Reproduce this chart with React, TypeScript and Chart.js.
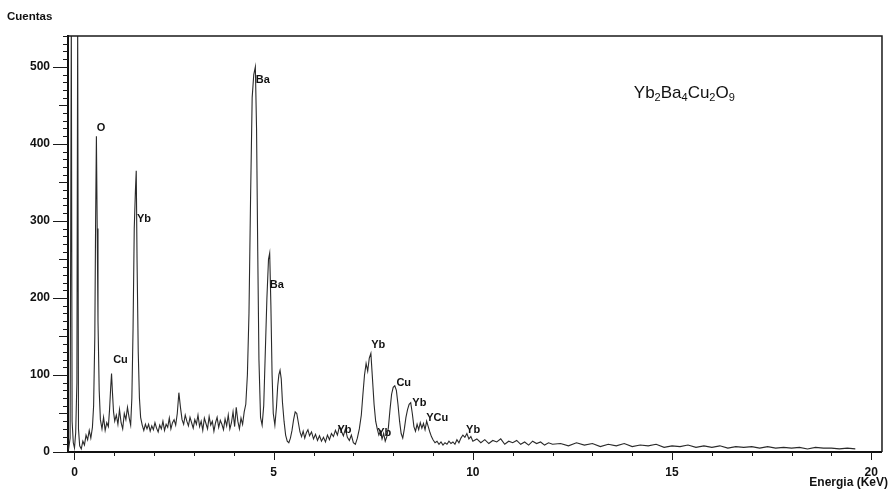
import React, { useEffect, useRef } from 'react';
import { Chart, registerables } from 'chart.js';

Chart.register(...registerables);

// ---------- spectrum data (energy in keV, counts) ----------
const energyA = [-0.15, -0.11, -0.08, -0.06, -0.03, 0.0, 0.03, 0.06, 0.08, 0.10, 0.13, 0.17, 0.21, 0.25, 0.29, 0.33, 0.37, 0.41, 0.45, 0.48];
const countsA = [3, 18, 560, 40, 12, 5, 25, 90, 560, 30, 8, 4, 14, 9, 22, 16, 28, 18, 32, 60];

const energyB = [0.51, 0.53, 0.55, 0.57, 0.59, 0.62, 0.65, 0.69, 0.73, 0.77, 0.81, 0.85, 0.88, 0.91, 0.93, 0.95, 0.98, 1.01, 1.05, 1.09, 1.13, 1.17, 1.21, 1.25, 1.29, 1.33, 1.37, 1.41, 1.44];
const countsB = [150, 300, 410, 290, 170, 80, 42, 30, 45, 28, 38, 33, 55, 85, 102, 80, 52, 40, 48, 36, 55, 38, 30, 50, 42, 58, 45, 35, 70];

const energyC = [1.47, 1.50, 1.53, 1.55, 1.57, 1.60, 1.63, 1.66, 1.70, 1.74, 1.78];
const countsC = [160, 290, 340, 365, 250, 130, 70, 45, 35, 28, 36];

const energyD = [1.82, 1.86, 1.90, 1.94, 1.98, 2.02, 2.06, 2.10, 2.14, 2.18, 2.22, 2.26, 2.30, 2.34, 2.38, 2.42, 2.46, 2.50, 2.54, 2.58, 2.62, 2.66, 2.70, 2.74, 2.78, 2.82, 2.86, 2.90, 2.94, 2.98, 3.02, 3.06, 3.10, 3.14, 3.18, 3.22, 3.26, 3.30, 3.34, 3.38, 3.42, 3.46, 3.50, 3.54, 3.58, 3.62, 3.66, 3.70, 3.74, 3.78, 3.82, 3.86, 3.90, 3.94, 3.98, 4.02, 4.06, 4.10, 4.14, 4.18, 4.22, 4.26, 4.30];
const countsD = [30, 36, 27, 34, 29, 38, 31, 26, 35, 30, 40, 28, 36, 32, 44, 30, 38, 42, 35, 50, 77, 58, 42, 36, 48, 40, 34, 45, 38, 31, 42, 36, 48, 33, 40, 28, 44, 37, 30, 46, 35, 40, 27, 38, 45, 32, 41, 36, 29, 43, 34, 48, 30, 38, 52, 33, 58, 40, 30, 44, 36, 52, 62];

const energyE = [4.34, 4.38, 4.42, 4.46, 4.50, 4.54, 4.57, 4.60, 4.63, 4.67, 4.71, 4.75, 4.79, 4.83, 4.87, 4.90, 4.93, 4.96, 4.99, 5.03, 5.07, 5.10, 5.13, 5.16, 5.19, 5.22, 5.26, 5.30, 5.34];
const countsE = [100, 180, 330, 460, 490, 500, 420, 260, 120, 45, 35, 60, 130, 200, 250, 258, 190, 100, 50, 35, 58, 85, 100, 106, 95, 65, 40, 22, 14];

const energyF = [5.38, 5.42, 5.46, 5.50, 5.54, 5.58, 5.62, 5.66, 5.70, 5.74, 5.78, 5.82, 5.86, 5.90, 5.95, 6.00, 6.05, 6.10, 6.15, 6.20, 6.25, 6.30, 6.35, 6.40, 6.45, 6.50, 6.55, 6.60, 6.65, 6.70, 6.75, 6.80, 6.85, 6.90, 6.95, 7.00, 7.05, 7.10, 7.15, 7.20];
const countsF = [12, 18, 28, 42, 52, 50, 38, 26, 20, 27, 18, 25, 29, 21, 26, 17, 23, 15, 21, 14, 19, 13, 22, 16, 24, 20, 28, 22, 33, 27, 21, 30, 19, 15, 22, 12, 10, 18, 30, 48];

const energyG = [7.24, 7.28, 7.32, 7.36, 7.40, 7.44, 7.48, 7.52, 7.56, 7.60, 7.64, 7.68, 7.72, 7.76, 7.80, 7.84, 7.88, 7.92, 7.96, 8.00, 8.04, 8.08, 8.12, 8.16, 8.20, 8.24, 8.28, 8.32, 8.36, 8.40, 8.44, 8.48, 8.52, 8.56, 8.60, 8.64, 8.68, 8.72, 8.76, 8.80, 8.84, 8.88, 8.92, 8.96, 9.00];
const countsG = [75, 100, 115, 105, 122, 128, 95, 62, 40, 30, 22, 27, 17, 24, 14, 20, 32, 55, 75, 84, 86, 80, 62, 40, 24, 18, 30, 45, 55, 62, 64, 50, 33, 27, 36, 29, 38, 31, 37, 29, 40, 33, 26, 20, 16];

const energyH = [9.05, 9.10, 9.15, 9.20, 9.25, 9.30, 9.35, 9.40, 9.45, 9.50, 9.55, 9.60, 9.65, 9.70, 9.75, 9.80, 9.85, 9.90, 9.95, 10.0, 10.1, 10.2, 10.3, 10.4, 10.5, 10.6, 10.7, 10.8, 10.9, 11.0, 11.1, 11.2, 11.3, 11.4, 11.5, 11.6, 11.7, 11.8, 11.9, 12.0];
const countsH = [12, 14, 10, 13, 9, 12, 10, 14, 11, 13, 10, 16, 12, 18, 22, 19, 24, 17, 20, 14, 17, 12, 16, 11, 15, 13, 17, 10, 14, 12, 15, 10, 13, 9, 14, 11, 13, 9, 12, 10];

const energyI = [12.2, 12.4, 12.6, 12.8, 13.0, 13.2, 13.4, 13.6, 13.8, 14.0, 14.2, 14.4, 14.6, 14.8, 15.0, 15.2, 15.4, 15.6, 15.8, 16.0, 16.2, 16.4, 16.6, 16.8, 17.0, 17.2, 17.4, 17.6, 17.8, 18.0, 18.2, 18.4, 18.6, 18.8, 19.0, 19.2, 19.4, 19.6];
const countsI = [11, 8, 12, 9, 11, 7, 10, 8, 11, 7, 9, 8, 10, 6, 8, 7, 9, 6, 8, 6, 8, 5, 7, 6, 7, 5, 7, 5, 6, 5, 6, 4, 6, 5, 5, 4, 5, 4];

const energyKeV = [...energyA, ...energyB, ...energyC, ...energyD, ...energyE, ...energyF, ...energyG, ...energyH, ...energyI];
const counts = [...countsA, ...countsB, ...countsC, ...countsD, ...countsE, ...countsF, ...countsG, ...countsH, ...countsI];

// ---------- axis ticks ----------
const xTickLabels = [0, 5, 10, 15, 20];
const yTickLabels = [0, 100, 200, 300, 400, 500];

// ---------- peak annotations (keV, counts) ----------
const peakLabelText = ['O', 'Cu', 'Yb', 'Ba', 'Ba', 'Yb', 'Yb', 'Yb', 'Cu', 'Yb', 'YCu', 'Yb'];
const peakLabelKeV = [0.56, 0.97, 1.57, 4.55, 4.9, 6.6, 7.45, 7.6, 8.08, 8.48, 8.83, 9.83];
const peakLabelCounts = [421, 120, 302, 483, 217, 29, 139, 25, 90, 64, 44, 29];

const formulaParts = [['Yb', 0], ['2', 1], ['Ba', 0], ['4', 1], ['Cu', 0], ['2', 1], ['O', 0], ['9', 1]] as const;
const formulaKeV = 14.04;
const formulaCounts = 460;

const FONT = '"Liberation Sans", Arial, sans-serif';

const decoPlugin = {
  id: 'deco',
  afterDraw(chart: any) {
    const { ctx, chartArea, scales } = chart;
    const { left, right, top, bottom } = chartArea;
    const x = scales.x;
    const y = scales.y;
    ctx.save();
    ctx.strokeStyle = '#1a1a1a';
    // top + right frame
    ctx.lineWidth = 1.5;
    ctx.beginPath();
    ctx.moveTo(left, top);
    ctx.lineTo(right, top);
    ctx.lineTo(right, bottom);
    ctx.stroke();
    // y ticks
    ctx.lineWidth = 1;
    for (let v = 0; v <= 540; v += 10) {
      const py = Math.round(y.getPixelForValue(v)) + 0.5;
      const len = v % 100 === 0 ? 15 : v % 50 === 0 ? 9 : 5;
      ctx.beginPath();
      ctx.moveTo(left - len, py);
      ctx.lineTo(left, py);
      ctx.stroke();
    }
    // x ticks
    for (let k = 0; k <= 20; k++) {
      const px = Math.round(x.getPixelForValue(k)) + 0.5;
      const len = k % 5 === 0 ? 8 : 4;
      ctx.beginPath();
      ctx.moveTo(px, bottom);
      ctx.lineTo(px, bottom + len);
      ctx.stroke();
    }
    // peak labels
    ctx.fillStyle = '#111';
    ctx.font = `bold 11px ${FONT}`;
    ctx.textAlign = 'left';
    ctx.textBaseline = 'middle';
    peakLabelText.forEach((t, i) => {
      ctx.fillText(t, x.getPixelForValue(peakLabelKeV[i]), y.getPixelForValue(peakLabelCounts[i]));
    });
    // formula
    let fx = x.getPixelForValue(formulaKeV);
    const fy = y.getPixelForValue(formulaCounts);
    ctx.textBaseline = 'alphabetic';
    formulaParts.forEach(([t, sub]) => {
      ctx.font = sub ? `11px ${FONT}` : `17px ${FONT}`;
      ctx.fillText(t, fx, sub ? fy + 3 : fy);
      fx += ctx.measureText(t).width;
    });
    // axis titles
    ctx.textBaseline = 'middle';
    ctx.font = `bold 11.5px ${FONT}`;
    ctx.textAlign = 'left';
    ctx.fillText('Cuentas', 7, 17);
    ctx.font = `bold 12px ${FONT}`;
    ctx.textAlign = 'right';
    ctx.fillText('Energia (KeV)', 888, 483);
    ctx.restore();
  },
};

export default function App() {
  const ref = useRef<HTMLCanvasElement>(null);
  useEffect(() => {
    const points = energyKeV.map((e, i) => ({ x: e, y: counts[i] }));
    const chart = new Chart(ref.current as HTMLCanvasElement, {
      type: 'line',
      data: {
        datasets: [
          {
            data: points,
            borderColor: '#2a2a2a',
            borderWidth: 1.1,
            pointRadius: 0,
            tension: 0,
            fill: false,
          },
        ],
      },
      options: {
        responsive: false,
        animation: false,
        events: [],
        layout: { padding: { left: 0, top: 36, right: 7, bottom: 0 } },
        plugins: { legend: { display: false }, tooltip: { enabled: false }, title: { display: false } },
        scales: {
          x: {
            type: 'linear',
            min: -0.163,
            max: 20.27,
            afterFit: (s: any) => { s.height = 41; },
            afterBuildTicks: (s: any) => { s.ticks = xTickLabels.map((v) => ({ value: v })); },
            grid: { display: false, drawTicks: false },
            border: { display: true, color: '#111', width: 2 },
            ticks: {
              padding: 13,
              color: '#111',
              font: { family: FONT, size: 12, weight: 'bold' },
              maxRotation: 0,
              autoSkip: false,
            },
          },
          y: {
            type: 'linear',
            min: 0,
            max: 540,
            afterFit: (s: any) => { s.width = 68; },
            afterBuildTicks: (s: any) => { s.ticks = yTickLabels.map((v) => ({ value: v })); },
            grid: { display: false, drawTicks: false },
            border: { display: true, color: '#111', width: 2 },
            ticks: {
              padding: 18,
              color: '#111',
              font: { family: FONT, size: 12, weight: 'bold' },
              autoSkip: false,
            },
          },
        },
      },
      plugins: [decoPlugin],
    } as any);
    return () => chart.destroy();
  }, []);
  return (
    <div style={{ position: 'fixed', left: 0, top: 0, width: 891, height: 493, background: '#fff' }}>
      <canvas ref={ref} width={891} height={493} style={{ display: 'block' }} />
    </div>
  );
}
